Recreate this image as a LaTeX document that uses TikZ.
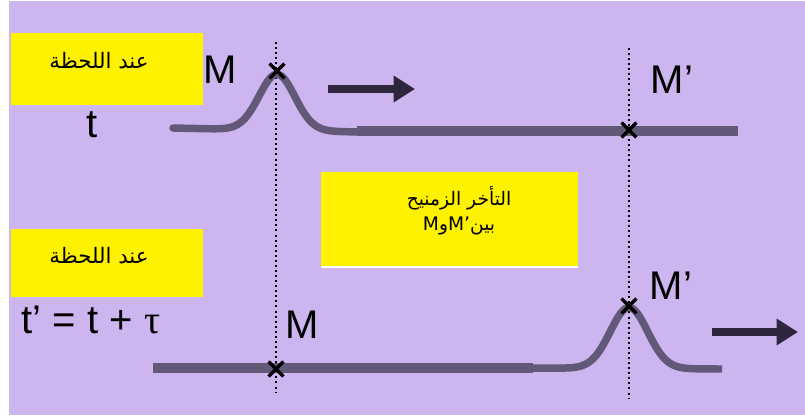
\documentclass[tikz,border=0pt]{standalone}
\usepackage{fontspec}
\setmainfont{Liberation Sans}
\newfontfamily\arabicfont[Script=Arabic]{DejaVu Sans}
\newfontfamily\dejavu{DejaVu Sans}
\newfontfamily\serifgreek{Liberation Serif}
\TeXXeTstate=1
\usetikzlibrary{arrows.meta,shapes.misc}
\definecolor{lav}{RGB}{205,181,240}
\definecolor{wavec}{RGB}{98,88,120}
\definecolor{arrc}{RGB}{45,38,60}
\begin{document}
\begin{tikzpicture}[x=0.75pt,y=-0.75pt,
  ybox/.style={fill=yellow, inner sep=0pt},
  artext/.style={inner sep=0pt, font=\arabicfont\fontsize{16}{19}\selectfont},
  midtext/.style={inner sep=0pt, font=\arabicfont\fontsize{14}{18.5}\selectfont},
  bigtext/.style={inner sep=0pt, font=\fontsize{30}{32}\selectfont},
  dotline/.style={black, line width=1.5pt, dash pattern=on 1.5pt off 2.3pt},
  waveline/.style={wavec, line width=5.6pt},
  barline/.style={wavec, line width=8.2pt},
  bigarrow/.style={arrc, line width=6pt, -{Triangle[length=16pt,width=19pt]}},
  xmark/.style={cross out, draw=black, line width=2.6pt, minimum size=8.5pt, inner sep=0pt}]
\useasboundingbox (0,0) rectangle (805,415);
\fill[white] (0,0) rectangle (805,415);
\fill[lav] (9,1) rectangle (805,415);

% yellow boxes
\node[ybox, minimum width=144pt, minimum height=54pt] (box1) at (107,69) {};
\node[ybox, minimum width=144pt, minimum height=51pt] (box2) at (107,263) {};
\draw[white, line width=1.5pt] (321,266.5) -- (578,266.5);
\node[ybox, minimum width=192.75pt, minimum height=70.5pt] (box3) at (449.5,219) {};

\node[artext] (lab1) at (99,61) {\beginR عند اللحظة\endR};
\node[artext] (lab2) at (99,256) {\beginR عند اللحظة\endR};
\node[midtext, align=center] (delay) at (459,211) {\beginR التأخر الزمنيح\endR\\\beginR بين\beginL{\dejavu M’}\endL و\beginL{\dejavu M}\endL\endR};

% dotted verticals
\coordinate (d1t) at (276,42); \coordinate (d1b) at (276,393);
\coordinate (d2t) at (629,48); \coordinate (d2b) at (629,398);
\draw[dotline] (d1t) -- (d1b);
\draw[dotline] (d2t) -- (d2b);

% top signal
\draw[waveline, line cap=round] plot[domain=173:358, samples=120]
  (\x, {128 + (\x-173)*4/185 - 56*exp(-(\x-277)*(\x-277)/640)});
\coordinate (b1s) at (357,131); \coordinate (b1e) at (738,131);
\draw[barline] (b1s) -- (b1e);

% bottom signal
\coordinate (b2s) at (153,368); \coordinate (b2e) at (533,368);
\draw[barline] (b2s) -- (b2e);
\draw[waveline] plot[domain=530:722, samples=120]
  (\x, {368 + (\x-530)/192 - 61*exp(-(\x-629)*(\x-629)/700)});

% arrows
\coordinate (a1s) at (328,89); \coordinate (a1e) at (415,89);
\draw[bigarrow] (a1s) -- (a1e);
\coordinate (a2s) at (712,332); \coordinate (a2e) at (798,332);
\draw[bigarrow] (a2s) -- (a2e);

% crosses
\node[xmark] (x1) at (277,71) {};
\node[xmark] (x2) at (629,130) {};
\node[xmark] (x3) at (276,369) {};
\node[xmark] (x4) at (629,306) {};

% labels
\node[bigtext] (m1) at (220,70) {M};
\node[bigtext] (m2) at (672,80) {M’};
\node[bigtext] (t1) at (92,125) {t};
\node[bigtext] (m3) at (302,325) {M};
\node[bigtext] (m4) at (671,286) {M’};
\node[bigtext] (t2) at (91,320) {t’ = t + {\serifgreek τ}};
\end{tikzpicture}
\end{document}
